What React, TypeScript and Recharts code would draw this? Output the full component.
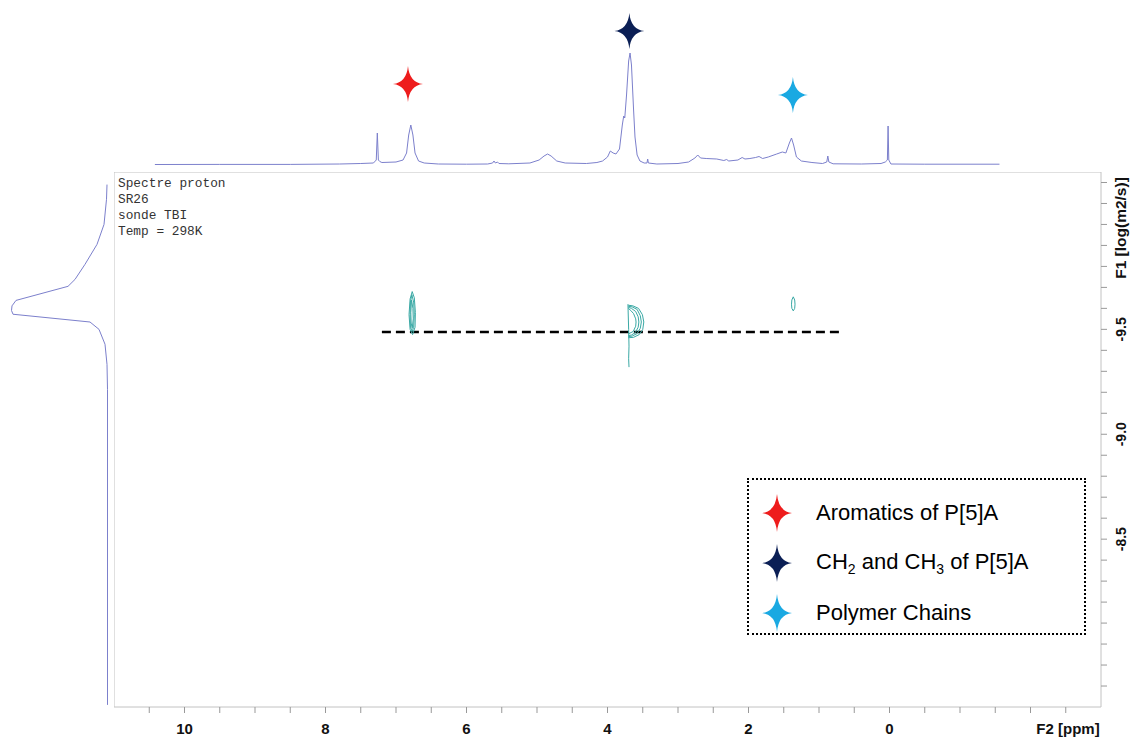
import React from 'react';
import { ScatterChart, Scatter, XAxis, YAxis, ReferenceLine, ReferenceArea } from 'recharts';

// F2 chemical shift window (ppm) shared by the 1H trace and the DOSY map
const F2_DOMAIN: [number, number] = [-3, 11];
// F1 diffusion window, log(m2/s)
const F1_DOMAIN: [number, number] = [-10.25, -7.7];

const f2Ticks = [10.5, 10, 9.5, 9, 8.5, 8, 7.5, 7, 6.5, 6, 5.5, 5, 4.5, 4, 3.5, 3, 2.5, 2, 1.5, 1, 0.5, 0, -0.5, -1, -1.5, -2, -2.5];
const f2Labels = [10, 8, 6, 4, 2, 0];
const f1Ticks = [-10.2, -10.1, -10.0, -9.9, -9.8, -9.7, -9.6, -9.5, -9.4, -9.3, -9.2, -9.1, -9.0, -8.9, -8.8, -8.7, -8.6, -8.5, -8.4, -8.3, -8.2, -8.1, -8.0, -7.9, -7.8];
const f1Labels = [-9.5, -9.0, -8.5];

// 1H projection: [ppm, intensity]
const protonTrace: [number, number][] = [
  [10.42, 0.5], [9.5, 0.6], [8.5, 0.6], [7.8, 1.0], [7.5, 1.5], [7.32, 2], [7.28, 5], [7.265, 32],
  [7.25, 5], [7.23, 3.5], [7.2, 2.5], [7.0, 3], [6.9, 5], [6.85, 12], [6.82, 30], [6.79, 40],
  [6.76, 30], [6.73, 12], [6.68, 4], [6.6, 2], [6.4, 1], [6.0, 0.8], [5.7, 1], [5.63, 2],
  [5.61, 4], [5.59, 2], [5.56, 3], [5.54, 1.5], [5.4, 1.2], [5.1, 2], [4.97, 5], [4.9, 9],
  [4.85, 11], [4.8, 9], [4.72, 4], [4.6, 2], [4.3, 1.5], [4.15, 2.5], [4.07, 4], [4.0, 8],
  [3.96, 14], [3.92, 12], [3.88, 11], [3.83, 16], [3.79, 40], [3.77, 49], [3.755, 47], [3.73, 70],
  [3.7, 104], [3.68, 112], [3.66, 100], [3.63, 55], [3.61, 28], [3.58, 10], [3.54, 4], [3.48, 2],
  [3.44, 2], [3.43, 6], [3.42, 2], [3.3, 1], [3.0, 1.5], [2.85, 3], [2.76, 7], [2.72, 10],
  [2.68, 7], [2.6, 6.5], [2.45, 6], [2.35, 4.5], [2.31, 5.5], [2.28, 4], [2.15, 5], [2.09, 7.5],
  [2.05, 6], [1.98, 6.5], [1.9, 7.5], [1.85, 8.5], [1.8, 6.5], [1.72, 8], [1.6, 11], [1.52, 13],
  [1.47, 12], [1.42, 22], [1.39, 27], [1.36, 20], [1.32, 8], [1.25, 4], [1.1, 2.5], [0.95, 1.5],
  [0.89, 3], [0.875, 9], [0.86, 3], [0.8, 1.2], [0.4, 1], [0.12, 1.5], [0.06, 3], [0.03, 5],
  [0.02, 39], [0.01, 5], [-0.02, 1], [-0.5, 0.8], [-1.0, 0.8], [-1.56, 0.8],
];

// diffusion projection: [intensity, log D]
const diffusionTrace: [number, number][] = [
  [1, -10.19], [1.5, -10.12], [4, -10.0], [11, -9.905], [23, -9.81], [33, -9.738], [40, -9.705],
  [92, -9.638], [96, -9.612], [96.5, -9.59], [95, -9.572], [18, -9.535], [9, -9.5], [3, -9.429],
  [1, -9.333], [0.5, -9.214], [0.5, -7.71],
];

// assignment markers: [ppm, intensity]
const markerNames = ['Aromatics of P[5]A', 'CH2 and CH3 of P[5]A', 'Polymer Chains'];
const markerColors = ['#ee1c1c', '#0b1f55', '#1aa9e2'];
const markerSpots: [number, number][] = [[6.83, 81], [3.69, 134], [1.37, 70]];

// DOSY contour loops: [ppm, log D]
const aromaticLoops: [number, number][][] = [
  [[6.77, -9.68], [6.74, -9.65], [6.725, -9.58], [6.73, -9.51], [6.765, -9.475], [6.8, -9.5], [6.815, -9.57], [6.8, -9.645], [6.77, -9.68]],
  [[6.775, -9.665], [6.75, -9.63], [6.74, -9.57], [6.75, -9.51], [6.77, -9.49], [6.795, -9.51], [6.8, -9.57], [6.795, -9.63], [6.775, -9.665]],
  [[6.78, -9.64], [6.76, -9.6], [6.755, -9.55], [6.77, -9.505], [6.785, -9.53], [6.79, -9.58], [6.78, -9.64]],
];
const alkylLoops: [number, number][][] = [
  [[3.705, -9.615], [3.64, -9.612], [3.56, -9.6], [3.505, -9.57], [3.485, -9.535], [3.5, -9.5], [3.55, -9.475], [3.63, -9.462], [3.705, -9.46]],
  [[3.705, -9.61], [3.65, -9.607], [3.58, -9.595], [3.535, -9.565], [3.52, -9.535], [3.535, -9.505], [3.58, -9.48], [3.65, -9.468], [3.705, -9.465]],
  [[3.705, -9.605], [3.66, -9.6], [3.6, -9.585], [3.565, -9.56], [3.555, -9.535], [3.565, -9.51], [3.605, -9.485], [3.66, -9.473], [3.705, -9.47]],
  [[3.705, -9.6], [3.67, -9.59], [3.63, -9.575], [3.6, -9.55], [3.595, -9.535], [3.6, -9.515], [3.635, -9.49], [3.705, -9.478]],
  [[3.71, -9.62], [3.7, -9.5], [3.695, -9.42], [3.7, -9.36], [3.695, -9.32]],
];
const polymerLoops: [number, number][][] = [
  [[1.365, -9.655], [1.345, -9.64], [1.34, -9.62], [1.345, -9.6], [1.365, -9.588], [1.385, -9.6], [1.39, -9.62], [1.385, -9.64], [1.365, -9.655]],
];

// dashed guide at the common diffusion coefficient
const guideLogD = -9.487;
const guideFrom = 7.2;
const guideTo = 0.65;

const PLOT_LEFT = 114;
const PLOT_TOP = 172;
const PLOT_W = 987;
const PLOT_H = 535;
const TRACE_COLOR = '#7c80cc';
const CONTOUR_COLOR = '#3aa9a5';
const FRAME = '#c2c2c2';

const toPts = (rows: [number, number][], kx: string, ky: string) =>
  rows.map(([a, b]) => ({ [kx]: a, [ky]: b }));

const NoDot = () => <g />;

const starPath = (w: number, h: number, k = 1.5) =>
  `M0,${-h} Q${k},${-k} ${w},0 Q${k},${k} 0,${h} Q${-k},${k} ${-w},0 Q${-k},${-k} 0,${-h} Z`;

const StarShape = (props: any) => {
  const { cx, cy, fill } = props;
  return <path d={starPath(15, 18)} transform={`translate(${cx},${cy})`} fill={fill} />;
};

const near = (list: number[], v: number) => list.some((t) => Math.abs(t - v) < 1e-6);

const F2Tick = (props: any) => {
  const { x, y, payload } = props;
  if (!near(f2Labels, payload.value)) return <g />;
  return (
    <text x={x} y={y + 19} textAnchor="middle" fontFamily="'Liberation Sans Narrow', 'Liberation Sans', Arial, sans-serif"
      fontWeight="bold" fontSize={15} fill="#111">
      {payload.value}
    </text>
  );
};

const F1Tick = (props: any) => {
  const { x, y, payload } = props;
  if (!near(f1Labels, payload.value)) return <g />;
  const bx = x + 17;
  return (
    <text x={bx} y={y} transform={`rotate(-90 ${bx} ${y})`} textAnchor="middle"
      fontFamily="'Liberation Sans', Arial, sans-serif" fontWeight="bold" fontSize={14} fill="#111">
      {payload.value.toFixed(1)}
    </text>
  );
};

const F2Title = (props: any) => {
  const vb = props.viewBox;
  return (
    <text x={vb.x + vb.width - 33} y={vb.y + 27} textAnchor="middle"
      fontFamily="'Liberation Sans Narrow', 'Liberation Sans', Arial, sans-serif" fontWeight="bold" fontSize={15} fill="#111">
      F2 [ppm]
    </text>
  );
};

const F1Title = (props: any) => {
  const vb = props.viewBox;
  const bx = vb.x + 25;
  const cy = 56;
  return (
    <text x={bx} y={cy} transform={`rotate(-90 ${bx} ${cy})`} textAnchor="middle"
      fontFamily="'Liberation Sans', Arial, sans-serif" fontWeight="bold" fontSize={15.5} fill="#111">
      F1 [log(m2/s)]
    </text>
  );
};

const StarIcon = ({ color }: { color: string }) => (
  <svg width={34} height={40} viewBox="-17 -20 34 40" style={{ display: 'block' }}>
    <path d={starPath(15, 19)} fill={color} />
  </svg>
);

const legendText = [
  <>Aromatics of P[5]A</>,
  <>CH<sub style={{ fontSize: 14 }}>2</sub> and CH<sub style={{ fontSize: 14 }}>3</sub> of P[5]A</>,
  <>Polymer Chains</>,
];

export default function App() {
  const allLoops = [...aromaticLoops, ...alkylLoops, ...polymerLoops];
  return (
    <div style={{ position: 'absolute', left: 0, top: 0, width: 1134, height: 738, background: '#fff', overflow: 'hidden' }}>
      {/* 1H trace above the map */}
      <div style={{ position: 'absolute', left: PLOT_LEFT, top: 10 }}>
        <ScatterChart width={PLOT_W} height={155} margin={{ top: 0, right: 0, bottom: 0, left: 0 }}>
          <XAxis type="number" dataKey="ppm" domain={F2_DOMAIN} reversed hide allowDataOverflow />
          <YAxis type="number" dataKey="i" domain={[0, 155]} hide allowDataOverflow />
          <Scatter data={toPts(protonTrace, 'ppm', 'i')} fill={TRACE_COLOR} line={{ stroke: TRACE_COLOR, strokeWidth: 1 }}
            shape={NoDot} isAnimationActive={false} />
          {markerSpots.map((p, idx) => (
            <Scatter key={markerNames[idx]} name={markerNames[idx]} data={toPts([p], 'ppm', 'i')} fill={markerColors[idx]}
              shape={StarShape} isAnimationActive={false} />
          ))}
        </ScatterChart>
      </div>

      {/* diffusion projection on the left */}
      <div style={{ position: 'absolute', left: 0, top: PLOT_TOP }}>
        <ScatterChart width={108} height={PLOT_H} margin={{ top: 0, right: 0, bottom: 0, left: 0 }}>
          <XAxis type="number" dataKey="i" domain={[0, 108]} reversed hide allowDataOverflow />
          <YAxis type="number" dataKey="d" domain={F1_DOMAIN} reversed hide allowDataOverflow />
          <Scatter data={toPts(diffusionTrace, 'i', 'd')} fill={TRACE_COLOR} line={{ stroke: TRACE_COLOR, strokeWidth: 1 }}
            shape={NoDot} isAnimationActive={false} />
        </ScatterChart>
      </div>

      {/* DOSY map */}
      <div style={{ position: 'absolute', left: PLOT_LEFT, top: PLOT_TOP }}>
        <ScatterChart width={PLOT_W + 33} height={PLOT_H + 31} margin={{ top: 0, right: 0, bottom: 0, left: 0 }}>
          <XAxis type="number" dataKey="ppm" domain={F2_DOMAIN} reversed ticks={f2Ticks} interval={0} height={31}
            tickSize={6} tickMargin={2} axisLine={false} tickLine={{ stroke: '#999' }} tick={F2Tick} label={F2Title} />
          <YAxis type="number" dataKey="d" domain={F1_DOMAIN} reversed orientation="right" ticks={f1Ticks} interval={0} width={33}
            tickSize={6} tickMargin={2} axisLine={false} tickLine={{ stroke: '#999' }} tick={F1Tick} label={F1Title} />
          <ReferenceArea x1={F2_DOMAIN[1]} x2={F2_DOMAIN[0]} y1={F1_DOMAIN[0]} y2={F1_DOMAIN[1]} fill="none" fillOpacity={0}
            stroke={FRAME} strokeWidth={1} ifOverflow="visible" />
          {allLoops.map((loop, idx) => (
            <Scatter key={idx} data={toPts(loop, 'ppm', 'd')} fill={CONTOUR_COLOR}
              line={{ stroke: CONTOUR_COLOR, strokeWidth: 1 }} shape={NoDot} isAnimationActive={false} />
          ))}
          <ReferenceLine segment={[{ x: guideFrom, y: guideLogD }, { x: guideTo, y: guideLogD }]} stroke="#000"
            strokeWidth={2.5} strokeDasharray="9 5" />
        </ScatterChart>
      </div>

      {/* acquisition notes */}
      <div style={{ position: 'absolute', left: 118, top: 176, fontFamily: "'Liberation Mono', 'DejaVu Sans Mono', monospace",
        fontSize: 12.8, lineHeight: '16px', color: '#333', whiteSpace: 'pre' }}>
        {'Spectre proton\nSR26\nsonde TBI\nTemp = 298K'}
      </div>

      {/* assignment legend */}
      <div style={{ position: 'absolute', left: 747, top: 478, width: 339, height: 157, boxSizing: 'border-box',
        border: '2px dotted #000', fontFamily: "'Liberation Sans', Arial, sans-serif", fontSize: 22, color: '#000' }}>
        {markerNames.map((name, idx) => (
          <div key={name} style={{ position: 'absolute', left: 11, top: 13 + idx * 50, height: 40, display: 'flex', alignItems: 'center' }}>
            <StarIcon color={markerColors[idx]} />
            <span style={{ marginLeft: 22, whiteSpace: 'nowrap' }}>{legendText[idx]}</span>
          </div>
        ))}
      </div>
    </div>
  );
}
